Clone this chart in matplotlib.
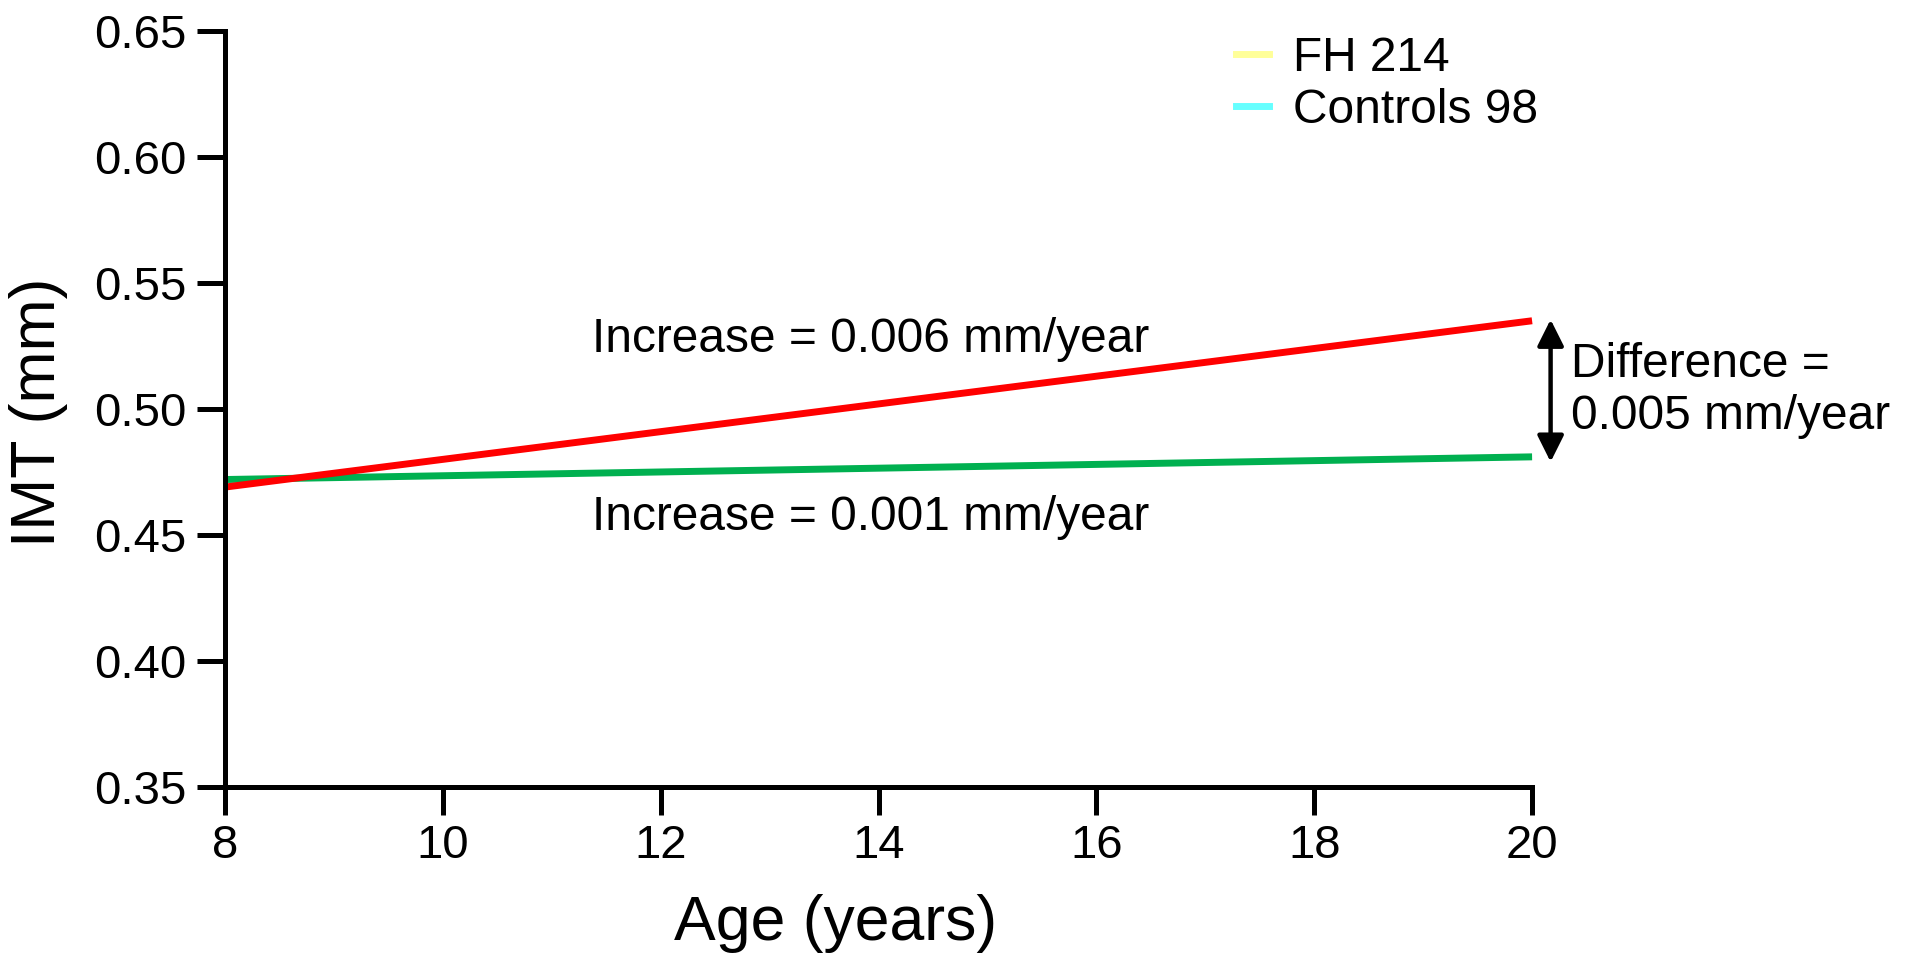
import matplotlib
matplotlib.use("Agg")
import matplotlib.pyplot as plt
from matplotlib.lines import Line2D

plt.rcParams['font.family'] = ['Liberation Sans', 'DejaVu Sans']

# regression lines of IMT against age
age = [8, 20]
fh_imt = [0.469, 0.535]
control_imt = [0.472, 0.481]

legend_labels = ["FH 214", "Controls 98"]
legend_colors = ["#FFFF99", "#66FFFF"]

xticks = [8, 10, 12, 14, 16, 18, 20]
yticks = [0.35, 0.40, 0.45, 0.50, 0.55, 0.60, 0.65]

fig = plt.figure(figsize=(19.12, 9.59), dpi=100)
ax = fig.add_axes([0.1177, 0.1794, 0.6836, 0.7883])

ax.plot(age, control_imt, color="#00B050", lw=5, solid_capstyle="butt", clip_on=False)
ax.plot(age, fh_imt, color="#FF0000", lw=5, solid_capstyle="butt", clip_on=False)

ax.set_xlim(8, 20)
ax.set_ylim(0.35, 0.65)
ax.set_xticks(xticks)
ax.set_yticks(yticks)
ax.set_yticklabels(["%.2f" % v for v in yticks])

for side in ["top", "right"]:
    ax.spines[side].set_visible(False)
for side in ["left", "bottom"]:
    ax.spines[side].set_linewidth(3.6)
ax.tick_params(axis="both", length=20, width=3.6, labelsize=34)
ax.tick_params(axis="y", pad=8)
ax.tick_params(axis="x", pad=7)

ax.set_xlabel("Age (years)", fontsize=45)
ax.set_ylabel("IMT (mm)", fontsize=45)
ax.xaxis.set_label_coords(0.467, -0.142)
ax.yaxis.set_label_coords(-0.12, 0.496)

# slope annotations
ax.text(11.37, 0.5226, "Increase = 0.006 mm/year", fontsize=34.5)
ax.text(11.37, 0.4520, "Increase = 0.001 mm/year", fontsize=34.5)

# difference between the two line ends
ax.annotate("", xy=(20.17, control_imt[1] - 0.002), xytext=(20.17, fh_imt[1] + 0.0005),
            arrowprops=dict(arrowstyle="<|-|>", lw=3.2, color="black",
                            mutation_scale=40, shrinkA=0, shrinkB=0),
            annotation_clip=False)
ax.text(20.36, 0.5075, "Difference =\n0.005 mm/year", fontsize=34.5,
        va="center", linespacing=1.2, clip_on=False)

handles = [Line2D([0], [0], color=c, lw=5) for c in legend_colors]
ax.legend(handles, legend_labels, loc="upper left", bbox_to_anchor=(0.755, 1.025),
          frameon=False, fontsize=34.5, handlelength=0.7, handletextpad=0.5,
          labelspacing=0.15, borderpad=0)

fig.savefig("out.png", dpi=100)
